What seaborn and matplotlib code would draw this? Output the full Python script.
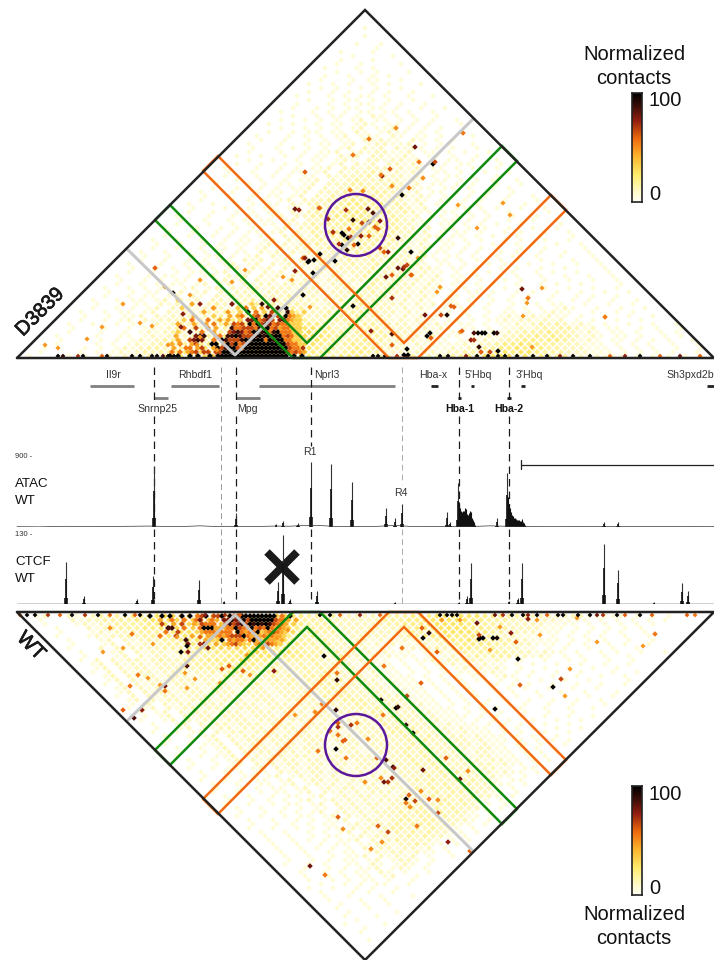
import numpy as np
import pandas as pd
import matplotlib
matplotlib.use("Agg")
import matplotlib.pyplot as plt
import matplotlib.patheffects as pe
from matplotlib.colors import LinearSegmentedColormap
from matplotlib.patches import Circle
import seaborn as sns

sns.set_theme(style="white")
plt.rcParams['font.family'] = ['Liberation Sans', 'DejaVu Sans']

# coarse background of the contact maps, one digit per bin, apex first
d3839_haze = """0
00
000
0000
00100
000000
0001000
00000000
000100100
0000001000
00100010000
000010000100
0001000100000
00010010000100
001000101000000
0000100101000100
00010010010100000
000100010110010000
0010010100101000100
00001010010100100000
000100101001010010000
0010001010110100100100
00001001011010100100000
000100010101101010010000
0001001010110110100100100
00100010101011011010010000
000010010110102101010010000
0001001010101201101010100100
00100100101101210110101000100
000010010101012011201010100000
0001001011011021012110101001000
00100010101012012102101101000100
000100100101011021211021010100000
0010001001011012012211201011001000
00010010101010120212021210101001000
000100010010112012122112011010100100
0010010010101102120221121011010010000
00001001001011012102212212010110100100
000100100101010120212022121101011000100
0010001001010112022122212120110101001000
00010010010110120212232121210110100100100
000100010101011021222312221201011010010000
0010010010010112021232232212101101010100100
00010001010110120222332223212011010100100100
000100100101011202123233232121101101001010000
0010001001011012022233323322120110101010010000
00010010010110120213233433232121011010100100100
000100010101012022233343332321210110101001000100
0010010010101102123233443342321201101010010010000
00010001001011012022334344332321201011010100100100
000100100101011021232334443432321101101010010000100
0010001001011012022333444433332120110101010010010000
00010010010101101202233344443332212011010100100100100
000100010010101102123233344343322120110101010010000100
0010001001010110120223233443433322120110101001001001000
00010010010101101202132333434333221201011010010100100100
000100100101010110212132333433332221210110101001001000100
0010010010010110120212233343333232212011010100101001001000
00010010010101101202122323333332322121011010010010100100100
000100100101101012021221232333323222120110101010010010000100
0010010010101011021202122223233232221201101010010100100100100
00010010010110101202120212223233222221210110100101001001000100
000100100101011021201212122223223232212011010100101001000100100
0010001001011012012021212122223223222221011010010100100100100100
00010010101011012021202121221222232222122101101001010010010000100
000100100101101201202120212212222322222121101010100100101001000100
0010001011010120212021212122122123222221212011010010100100100100100
00010010101102012120212021221221222322212121011010010100100100100100
000100101011012012021221222121222123222221210110101001001010010000100
0010010101101201202122122212221222232222212120110100101001001001001000
00010010110120120212221222122212223232222121201011010010100100100100100
000100101101202102122212223222122223222212121011010100101001001010010000
0010010110120212022122322322222223232222121210110100101010010010100100100
00010010110212021232122323233221223232222212120110101001001011001001001000
000100101012021212221233233233222232322221212101011010010101012100100100100
0010010110120212122232333433333223233322221211011010010110101211001001010000
00010010112021222122334334434342232333222212120110110101211212110100100100100
000100101202122212233343445443432233332222121211011010112122121201010010010000
0010010010110212322123334454545544322333322221212101101011212323212101001001001
00010001001012123222123344545556554422333322221212101101011212323321201100101001
000100010010121232221234454556665654332334322221210110112122333433212101101001010
0010000100110121232223344555656766654322343322221211101121223343433212101101001010
00010000101012123323334455666767766543233433222212110111212334434432121011010101001
000100001010121233233445566778777665432343332221212111212234454433222111010101001001
0010000101012123323344566777888877654332344332221221121223344545433222111010101001001
00100001010121232334456677889988776543323443322222221223344554554333222111010101010010
010000101012122332344566778999988765433344433222232222334455565544333222211101010101010""".split()

wt_haze = """0
00
000
0000
00000
000100
0000000
00010000
000010000
0010000100
00001000000
000100010000
0000100000100
00010001000000
000010010010000
0001000100100000
00010010001000100
000100010100100000
0010010010100100000
00001001010110010000
000100101011010010000
0001001010110120010000
00010010101102101001000
000010010101120121010000
0010010100110210121010000
00010010101101201221010000
000100100101120212120100100
0001001001011012122121101000
00010010101010212212212010000
000100100101101122122321101000
0001001010101120212322221010100
00010010010110121221232322101000
000100100101012021223232322110100
0010010010101102121233232322101000
00010010101011012122232333232110100
000100100101011201221233233322210100
0010010010110120212122232332322110100
00010010101012012121222323323232101000
000100100101011021212122233232322210100
0010010010110120212122122323233232110100
00010010101012012121212223232332322101000
000100100101101201212212122323232232210100
0010010010110120212121222122323233222110100
00010010101101201212212212223232323222101000
000100100110120121212122122122323223222110100
0010010101101201221212212122232322323221011000
00010010110120121212122122122223232222221101000
000100101011021212212212212122232323222212110100
0010010110120212122122122212222323222222211011000
00010010110212122122122122212223232222222121101000
000100101202121221221221222122232322222212211010100
0010010112012122122122212221222323222221221110101000
00010010120212212212221222122223232222212211101010100
000100101202122122122212221222223232222212211010101000
0010010112021221222122212221222223322222212110110100100
00010010120212212221222122212222232322222121110101010100
000100101202122122212221222122222332322221211101010010000
0010010120212212221222122212222233232222121110101001001000
00010012021221222122212221222222332322221211101010100100100
000100120212212221222122212222223232222121110101010010010000
0010012021221222122212221222222232322222111010101001001001000
00010120212212221222122212222222323222221111010100100100100100
000101202122122212221222122222223322222211101010100100100100000
0010120212212221222122212222222323222221111010101001001001001000
00010202122122212221222122222223322222221101010100101001001000100
000120212212221222122212222232333222222111010100101001001001001000
0010202122122212221222122222323322222221110101010010100100100100100
00012021221222122212221222232333222221211101010100101001001001000100
000120212212221222122212222323332222212111010101001010100100100100000
0010202122122212221223122323233322222121110101010011010100100100100100
00012021221222122212232232323232322221211101010101101010010010010000100
000120212212221221323232323233332222121111010101011012101001001001001000
0010202122122212232333323323232322221211101010101121210101001001000100100
00012021221222323333434333232323222212111010101012121210100100100100100000
000120212212222333344344333323232222121110101011212121101010010010010010000
0010202122123223334444544433332322221211101011212232212101001001010010010000
0001000120212212323334454555444333232222121110101212323332212101010010010
000100012021221232334445565655433323222212111011212323333222121101001010010010
0010002021222233344556666655443323222212111012123234433322211010100100100100
00010001202122233344556676766554332322221212111212334444332221110101001010010
000100012021232334455667778776543323222221211212233445443332211110101010010010
00100012122323344556677888876654333222222222123344554443322211101010101001001
000100012122333344556677889988766433332222222223344555544332222111010101010010
0001000212333344556677889998887654333322222222334445555443332222111010101010100
00100012122333344556677889999877654333322222233444555554433322222111101010101010
001000212233334455667788999998776543333222222333445555554433322222211110101010101
0012002122333344556677889999998876543333222222333444555555444333222222211111010101""".split()

# how strong each background digit is
haze_levels = [0, 6, 11, 16, 21, 26, 30, 34, 38, 42]

# strongest part of each map, finer bins
d3839_core = """00300000000000000000000000000000000
00000400000000070000300000000000000
00030000000400000305030400080900000
00000000400000300309050306000830030
00000040000300040450056097060954300
00030500050040400307795676078543300
00400040040500406560959687565533300
00050060050400085566658895645533300
00300800500400067875699895895553300
04000078800450889866689898995653300
00400678700509866689999959899553300
40500460009905969569999999999655330
04005504600496899659999999999965530
50504560660669999999999999999656540
90900909009099999999999999999909090""".split()

wt_core = """9009090090905690669096699999999905090000
0040050050057005007787896999999655404000
0006004060040655500686786989898655403000
0000880050005999440559655956595454300000
0000500600000455545550954559345654300000
0050006000400044454566695444545443000000
0000000008000043039054550594344434000000
0000000007000700403456430045565430000000""".split()

# single strong bins
d3839_hot_x = [173,155,200,183,181,262,268,274,303,295,299,303,309,314,320,335,295,313,303,353,
               415,433,435,463,369,353,396,419,390,382,381,305,392,409,423,402,350,363,
               319,346,368,373,328,353,369,380,362,375,378,349,333,342,344,348,351,361,369,342,339,358,354,347,
               398,380,388,384,411,308,305,407,398,403,404,386,392,411,392,425,441,447,454,451,
               430,427,431,371,392,392,407,408,404,482,478,485,474,494,497,471,474,479,498,481,490,462,522,528,605]
d3839_hot_y = [293,268,304,314,327,304,307,300,348,209,210,258,261,260,254,261,271,273,295,306,
               147,164,162,133,139,155,128,162,169,176,175,172,186,188,178,195,190,191,
               208,210,209,213,219,220,222,221,223,227,229,229,232,233,235,238,237,236,236,245,244,244,245,250,
               238,248,252,252,252,262,258,265,268,269,267,277,275,275,298,315,315,315,307,306,
               333,336,338,331,334,345,349,355,355,333,333,333,333,333,333,340,340,347,351,352,352,331,289,298,317]
d3839_hot_v = [99,60,75,75,75,90,80,75,70,80,75,60,99,99,99,99,75,99,99,99,
               80,99,65,55,55,55,50,55,60,75,55,60,50,55,50,99,50,50,
               60,70,80,85,70,90,85,75,65,60,60,55,70,99,99,99,70,75,60,99,70,99,60,90,
               90,65,75,60,99,99,75,65,80,80,70,80,60,60,70,80,65,95,60,60,
               99,99,60,75,85,60,99,99,99,99,99,99,85,99,90,75,70,90,99,60,65,60,80,55,55]

wt_hot_x = [132,169,110,187,181,188,208,200,200,187,165,165,138,130,142,123,134,274,229,222,243,324,337,337,
            381,396,398,336,322,315,384,383,407,495,338,338,351,357,330,338,345,343,336,318,346,368,377,386,393,394,
            392,384,388,381,365,406,413,423,460,446,468,406,409,415,406,410,421,429,438,438,338,378,388,417,448,470,
            343,382,371,310,325,477,528,480,483,479,493,497,479,511,516,518,553,561,520,429,423,422,437,421,402,655]
wt_hot_y = [634,628,628,646,652,652,648,644,637,666,686,691,675,686,710,710,718,671,666,669,671,656,680,673,
            700,708,707,710,704,712,666,715,696,709,723,727,725,723,731,735,740,741,749,751,758,739,758,760,767,768,
            778,782,782,778,782,725,733,770,779,758,771,799,795,801,803,807,791,799,800,813,817,826,832,826,842,851,
            829,842,849,866,875,623,619,638,638,639,638,638,635,633,642,659,687,679,685,633,638,628,652,683,648,634]
wt_hot_v = [55,85,50,99,99,75,80,70,60,85,80,55,55,55,75,60,85,75,60,60,60,99,90,55,
            99,99,90,90,55,50,55,55,65,99,60,70,70,55,55,55,60,60,99,55,55,50,60,85,90,75,
            70,80,70,50,50,90,99,80,80,60,50,95,60,65,55,50,50,60,50,65,60,60,65,55,75,60,
            50,50,50,80,55,80,75,99,99,99,99,95,65,75,60,99,99,65,60,90,99,60,60,60,55,55]

# mid strength bins scattered over the maps
d3839_mid_x = [123,87,58,45,102,152,168,180,200,232,228,213,190,165,140,245,283,292,310,320,333,200,197,217,
               510,477,437,412,418,440,527,542,532,523,460,503,458]
d3839_mid_y = [304,339,348,345,327,326,345,343,280,282,312,308,295,287,323,270,277,280,307,208,233,337,345,350,
               215,228,292,275,258,287,303,288,347,316,332,203,205]
wt_mid_x = [153,103,123,177,148,160,187,195,185,220,247,263,277,288,295,250,442,460,500,540,597,643,570,565,490,537,577]
wt_mid_y = [644,652,648,637,678,685,688,679,673,683,655,648,638,630,715,675,620,620,627,635,642,646,669,696,650,620,618]

# bins along the diagonal
d3839_base_x = [58,63,78,83,102,107,132,140,152,157,163,168,174,178,373,378,385,397,407,440,448,466,
                477,488,498,505,517,533,547,560,573,590,610,625,640,660,680,700]
d3839_base_v = [99,90,70,99,60,99,99,99,99,99,85,99,99,99,99,99,99,70,99,99,99,75,
                99,99,99,99,99,99,99,75,99,99,60,75,99,60,80,60]
wt_base_x = [20,27,35,48,60,72,85,98,110,125,135,140,205,225,240,320,330,340,360,380,440,447,452,457,
             495,503,512,523,528,537,547,558,563,578,590,597,603,617,625,640,652,687,695]
wt_base_v = [60,99,99,70,60,99,70,99,60,99,60,99,75,70,60,99,99,60,75,60,99,99,99,99,
             80,70,99,99,75,99,60,99,99,99,99,80,70,99,60,99,60,60,55]

# gene tracks
gene_names = ["Il9r","Rhbdf1","Nprl3","Hba-x","5'Hbq","3'Hbq","Sh3pxd2b"]
gene_start = [90,171,259,431,471,521,707]
gene_end = [134,219,395,438,474,525,714]
gene2_names = ["Snrnp25","Mpg","Hba-1","Hba-2"]
gene2_start = [154,236,458,507]
gene2_end = [168,260,461,511]

# signal tracks
atac_pos = [153.5,235.5,283,276,298,310.7,331,351.5,386,395,401.5,447,450,457.7,497,507,604,617.5]
atac_val = [771,180,77,40,50,836,810,580,245,115,295,190,65,565,115,695,62,62]
atac_shoulder_x = [459,460,461,462,463,464,465,466,467,468,469,470,471,472,473,474,475,508,509,510,511,512,513,514,515,516,517,518,519,520,521,522,523,524,525]
atac_shoulder_v = [320,240,200,190,200,210,250,230,170,150,180,210,190,120,90,60,30,380,300,240,190,160,140,120,110,100,90,85,85,80,75,105,70,50,30]
atac_noise_x = [17,40,65,95,110,135,150,165,180,200,215,225,250,265,275,290,300,318,325,340,360,375,395,415,430,475,490,505,530,550,590,640,680,714]
atac_noise_v = [4,2,9,5,7,10,12,7,5,15,7,9,6,9,12,10,17,20,15,5,6,7,20,4,7,8,15,10,5,4,5,6,5,4]

ctcf_pos = [65.5,84,137,153,199,224,277.5,283,290,316.5,395,459,467,470.5,509,518,521.7,604,618,654,682,688]
ctcf_val = [80,15,9,52,45,5,41,130,9,24,4,3,15,78,5,11,78,113,65,4,39,24]

vline_x = [154,220.5,236,311,401.5,459,508.5]
vline_col = ["k","#999999","k","k","#aaaaaa","k","k"]

# hi-c scale
heat_cmap = LinearSegmentedColormap.from_list("contacts", [(0,"#fffff4"),(0.08,"#fffbd0"),(0.25,"#ffeb6b"),
    (0.42,"#fdb32b"),(0.58,"#ee6a0e"),(0.75,"#8f1d0f"),(0.88,"#3a0c08"),(1,"#000000")])


def haze_frame(rows, top_down=True):
    xs, ys, vs = [], [], []
    for r, row in enumerate(rows):
        for k, c in enumerate(row):
            if c != "0":
                xs.append(365 - 4*r + 8*k)
                ys.append(12 + 4*r if top_down else 960 - 4*r)
                vs.append(haze_levels[int(c)])
    return pd.DataFrame({"x": xs, "y": ys, "v": vs})


def core_frame(rows, x0, y0):
    xs, ys, vs = [], [], []
    for r, row in enumerate(rows):
        for k, c in enumerate(row):
            if c != "0":
                xs.append(x0 + 4*k + 2*(r % 2))
                ys.append(y0 + 4*r)
                vs.append(int(c)*11)
    return pd.DataFrame({"x": xs, "y": ys, "v": vs})


def cells(df, ax, size):
    sns.scatterplot(data=df, x="x", y="y", hue="v", hue_norm=(0, 100), palette=heat_cmap, marker="D",
                    s=size, linewidth=0, legend=False, ax=ax, zorder=2)


fig = plt.figure(figsize=(7.14, 9.6), dpi=100)
ax = fig.add_axes([0, 0, 1, 1])
ax.set_xlim(0, 714)
ax.set_ylim(960, 0)
ax.axis("off")

cells(haze_frame(d3839_haze), ax, 9)
cells(haze_frame(wt_haze, False), ax, 9)
cells(core_frame(d3839_core, 170, 300), ax, 9)
cells(core_frame(wt_core, 150, 616), ax, 9)
cells(pd.DataFrame({"x": d3839_mid_x, "y": d3839_mid_y, "v": [48]*len(d3839_mid_x)}), ax, 7)
cells(pd.DataFrame({"x": wt_mid_x, "y": wt_mid_y, "v": [48]*len(wt_mid_x)}), ax, 7)
cells(pd.DataFrame({"x": d3839_hot_x, "y": d3839_hot_y, "v": d3839_hot_v}), ax, 8)
cells(pd.DataFrame({"x": wt_hot_x, "y": wt_hot_y, "v": wt_hot_v}), ax, 8)
cells(pd.DataFrame({"x": d3839_base_x, "y": [356]*len(d3839_base_x), "v": d3839_base_v}), ax, 6)
cells(pd.DataFrame({"x": wt_base_x, "y": [615]*len(wt_base_x), "v": wt_base_v}), ax, 6)

# triangles, loops and anchors
ln = 2.5*0.72
for flip in [False, True]:
    f = (lambda y: 970 - y) if flip else (lambda y: y)
    ax.plot([17, 365, 714, 17], [f(358), f(10), f(358), f(358)], color="#222222", lw=ln, zorder=5,
            solid_joinstyle="miter")
    ax.plot([128, 235, 473], [f(250), f(355), f(119)], color="#c8c8c8", lw=3*0.72, zorder=3)
    ax.plot([155, 170, 307, 502, 517, 320, 293, 155], [f(220), f(205), f(343), f(146), f(161), f(358), f(358), f(220)],
            color="#0f8a0f", lw=ln, zorder=4, solid_joinstyle="miter")
    ax.plot([203, 218, 404, 551, 566, 418, 389, 203], [f(171), f(156), f(343), f(195), f(210), f(358), f(358), f(171)],
            color="#f26a10", lw=ln, zorder=4, solid_joinstyle="miter")
    ax.add_patch(Circle((356, f(225)), 31, fill=False, edgecolor="#5a189a", lw=ln, zorder=4))

bold_edge = [pe.withStroke(linewidth=0.5, foreground="k")]
ax.text(40, 312, "D3839", rotation=45, fontsize=14.5, color="k", ha="center", va="center", path_effects=bold_edge)
ax.text(31, 646, "WT", rotation=-45, fontsize=14.5, color="k", ha="center", va="center", path_effects=bold_edge)

# colour bars
grad = np.linspace(100, 0, 256).reshape(-1, 1)
for y0, y1, lab_y, tops in [(93, 202, (55, 79), (100, 195)), (786, 895, (914, 938), (794, 888))]:
    cax = fig.add_axes([632/714, 1 - y1/960, 10/714, (y1 - y0)/960])
    sns.heatmap(grad, cmap=heat_cmap, vmin=0, vmax=100, cbar=False, xticklabels=False, yticklabels=False, ax=cax)
    for s in cax.spines.values():
        s.set_visible(True)
        s.set_color("#222222")
        s.set_linewidth(1.2)
    ax.text(634, lab_y[0], "Normalized", fontsize=14.5, ha="center", va="center", color="#111111")
    ax.text(634, lab_y[1], "contacts", fontsize=14.5, ha="center", va="center", color="#111111")
    ax.text(649, tops[0], "100", fontsize=14.5, ha="left", va="center", color="#111111")
    ax.text(649, tops[1], "0", fontsize=14.5, ha="left", va="center", color="#111111")

# genes
for n, a, b in zip(gene_names, gene_start, gene_end):
    ax.plot([a, b], [386, 386], color="#222222" if b - a < 10 else "#808080", lw=2.0, solid_capstyle="butt")
for n, a, b in zip(gene2_names, gene2_start, gene2_end):
    ax.plot([a, b], [398, 398], color="#222222" if b - a < 10 else "#808080", lw=2.0, solid_capstyle="butt")
gene_lab_x = [113,195,327,433,478,529,690]
for n, x in zip(gene_names, gene_lab_x):
    ax.text(x, 375, n, fontsize=7.6, ha="center", va="center", color="#333333")
gene2_lab_x = [158,247,459.5,509]
for n, x in zip(gene2_names, gene2_lab_x):
    ax.text(x, 409.5, n, fontsize=7.6, ha="center", va="center", color="#111111" if n.startswith("Hba") else "#333333",
            fontweight="bold" if n.startswith("Hba") else "normal")

# dashed guides
for x, c in zip(vline_x, vline_col):
    lw = 0.9 if c == "k" else 0.7
    dash = (0, (6, 4))
    if x in (154, 236, 459, 508.5):
        ax.plot([x, x], [367, 401], color=c, lw=lw, ls=dash)
        ax.plot([x, x], [416, 525], color=c, lw=lw, ls=dash)
    elif x == 311:
        ax.plot([x, x], [367, 446], color=c, lw=lw, ls=dash)
    else:
        ax.plot([x, x], [367, 484 if x > 300 else 525], color=c, lw=lw, ls=dash)
    ax.plot([x, x], [529, 604], color=c, lw=lw, ls=dash)

ax.text(310, 452, "R1", fontsize=7.6, ha="center", va="center", color="#333333")
ax.text(401, 493, "R4", fontsize=7.6, ha="center", va="center", color="#333333")
ax.text(15, 484, "ATAC", fontsize=9.6, ha="left", va="center", color="#111111")
ax.text(15, 501, "WT", fontsize=9.6, ha="left", va="center", color="#111111")
ax.text(15, 562, "CTCF", fontsize=9.6, ha="left", va="center", color="#111111")
ax.text(15, 579, "WT", fontsize=9.6, ha="left", va="center", color="#111111")
ax.text(15, 457, "900 -", fontsize=5.5, ha="left", va="center", color="#333333")
ax.text(15, 535, "130 -", fontsize=5.5, ha="left", va="center", color="#333333")

# range bar
ax.plot([521, 714], [464.5, 464.5], color="#222222", lw=0.9)
ax.plot([521, 521], [460, 469], color="#222222", lw=0.9)

# tracks
ax_atac = fig.add_axes([0, 1 - 527/960, 1, 70/960])
ax_ctcf = fig.add_axes([0, 1 - 604/960, 1, 69/960])
for a, ymax in [(ax_atac, 900), (ax_ctcf, 130)]:
    a.set_xlim(0, 714)
    a.set_ylim(0, ymax)
    a.axis("off")
    a.patch.set_alpha(0)


def spikes(a, pos, val):
    pos = np.array(pos)
    val = np.array(val)
    a.vlines(pos, 0, val, color="#333333", lw=0.8)
    a.vlines(pos, 0, val*0.6, color="#111111", lw=1.2)
    a.vlines(pos, 0, val*0.15, color="#111111", lw=2.6)


spikes(ax_atac, atac_pos, atac_val)
ax_atac.vlines(atac_shoulder_x, 0, atac_shoulder_v, color="#111111", lw=0.8)
sns.lineplot(x=atac_noise_x, y=atac_noise_v, color="#333333", lw=0.5, ax=ax_atac)
spikes(ax_ctcf, ctcf_pos, ctcf_val)
ax_ctcf.plot([17, 714], [0, 0], color="#111111", lw=1.0)
ax_atac.plot([17, 714], [0, 0], color="#555555", lw=0.6)
ax_atac.axis("off")
ax_ctcf.axis("off")

# deleted site
ax.plot([267, 297], [552, 582], color="k", lw=5.6, solid_capstyle="butt", zorder=6)
ax.plot([267, 297], [582, 552], color="k", lw=5.6, solid_capstyle="butt", zorder=6)

fig.savefig("out.png", dpi=100)
